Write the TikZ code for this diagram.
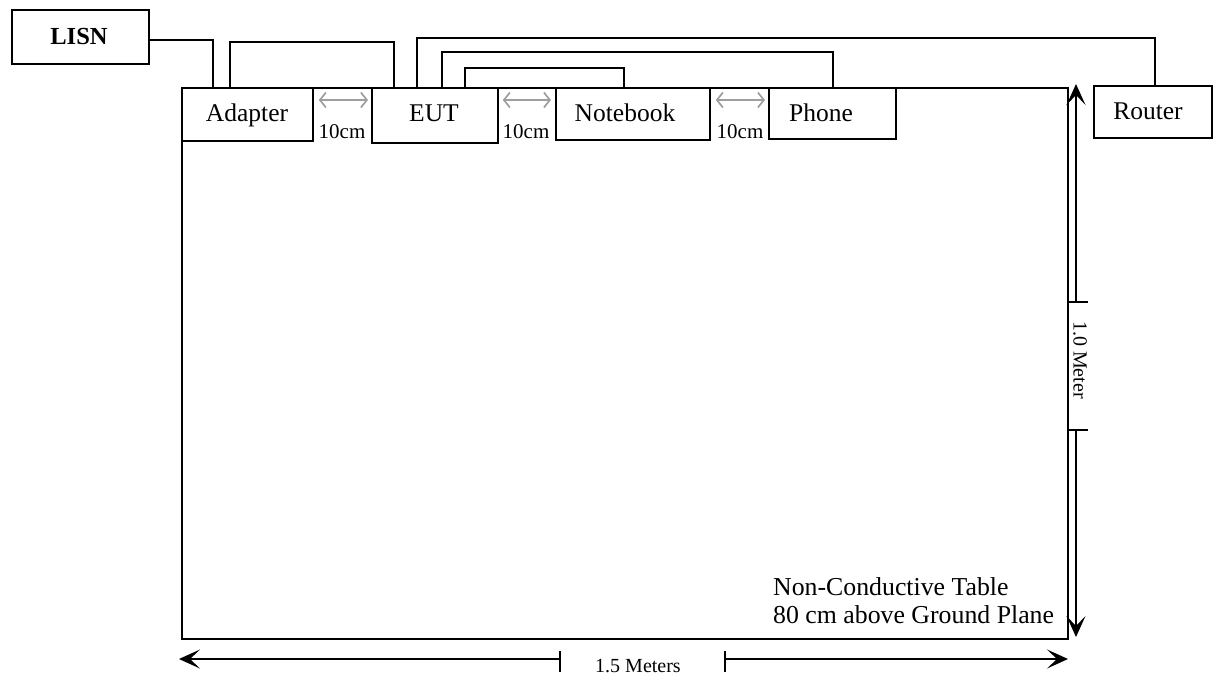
\documentclass[tikz,border=0pt]{standalone}
\usepackage{fontspec}
\setmainfont{Liberation Serif}
\usetikzlibrary{arrows.meta,calc}
\tikzset{
  box/.style={draw=black, line width=1.8pt, fill=white, anchor=north west, inner sep=0pt},
  lbl/.style={inner sep=0pt, font=\fontsize{25.5}{29}\selectfont},
  small/.style={inner sep=0pt, font=\fontsize{21}{24}\selectfont},
  wire/.style={draw=black, line width=1.8pt},
  gap/.style={draw=gray!75, line width=1.7pt, {Straight Barb[length=6pt,width=15pt]}-{Straight Barb[length=6pt,width=15pt]}},
  dim/.style={draw=black, line width=2pt, -{Stealth[length=21pt,width=19pt,inset=10pt]}},
  tick/.style={draw=black, line width=1.8pt},
}
\begin{document}
\begin{tikzpicture}[x=1pt,y=-1pt]
\useasboundingbox (0,0) rectangle (1213,675);
% table
\node[box, fill=none, minimum width=886pt, minimum height=551pt] (table) at (181,87) {};
% boxes
\node[box, minimum width=137pt, minimum height=54pt] (lisn) at (11,9) {};
\node[lbl, font=\fontsize{24.5}{28}\selectfont\bfseries, anchor=base] (lisnt) at (79,44) {LISN};
\node[box, minimum width=131pt, minimum height=53pt] (adapter) at (181,87) {};
\node[lbl, anchor=base] (adaptert) at (247,121) {Adapter};
\node[box, minimum width=126pt, minimum height=55pt] (eut) at (371,87) {};
\node[lbl, anchor=base] (eutt) at (434,121) {EUT};
\node[box, minimum width=154pt, minimum height=52pt] (notebook) at (555,87) {};
\node[lbl, anchor=base] (notebookt) at (625,121) {Notebook};
\node[box, minimum width=127pt, minimum height=51pt] (phone) at (768,87) {};
\node[lbl, anchor=base] (phonet) at (821,121) {Phone};
\node[box, minimum width=118pt, minimum height=52pt] (router) at (1093,85) {};
\node[lbl, anchor=base] (routert) at (1148,119) {Router};
% wires
\draw[wire] ([yshift=-3pt]lisn.east) -| ([xshift=32pt]adapter.north west);
\draw[wire] ([xshift=49pt]adapter.north west) -- ++(0,-45) -| ([xshift=23pt]eut.north west);
\draw[wire] ([xshift=46pt]eut.north west) -- ++(0,-49) -| ([xshift=62pt]router.north west);
\draw[wire] ([xshift=71pt]eut.north west) -- ++(0,-35) -| ([xshift=65pt]phone.north west);
\draw[wire] ([xshift=94pt]eut.north west) -- ++(0,-19) -| ([xshift=69pt]notebook.north west);
% gap arrows
\draw[gap] ([xshift=5pt,yshift=-13pt]adapter.north east) -- ([xshift=-3pt,yshift=-13pt]eut.north west);
\draw[gap] ([xshift=4pt,yshift=-13pt]eut.north east) -- ([xshift=-4pt,yshift=-13pt]notebook.north west);
\draw[gap] ([xshift=5pt,yshift=-13pt]notebook.north east) -- ([xshift=-3pt,yshift=-13pt]phone.north west);
\node[small, anchor=base] (g1) at (342,138) {10cm};
\node[small, anchor=base] (g2) at (526,138) {10cm};
\node[small, anchor=base] (g3) at (740,138) {10cm};
% table text
\node[inner sep=0pt, anchor=base west, font=\fontsize{25.8}{29}\selectfont] (tt1) at (773,595) {Non-Conductive Table};
\node[inner sep=0pt, anchor=base west, font=\fontsize{25.8}{29}\selectfont] (tt2) at (773,623) {80 cm above Ground Plane};
% vertical dimension
\coordinate (vtop) at (1076,84);
\coordinate (vt1) at (1076,302);
\coordinate (vt2) at (1076,430);
\coordinate (vbot) at (1076,637);
\draw[dim] (vt1) -- (vtop);
\draw[dim] (vt2) -- (vbot);
\coordinate (vk1a) at (1067,302); \coordinate (vk1b) at (1088,302);
\coordinate (vk2a) at (1067,430); \coordinate (vk2b) at (1088,430);
\draw[tick] (vk1a) -- (vk1b);
\draw[tick] (vk2a) -- (vk2b);
\node[inner sep=0pt, rotate=-90, font=\fontsize{20}{24}\selectfont] (vm) at (1080,360) {1.0 Meter};
% horizontal dimension
\coordinate (hl) at (179,659);
\coordinate (h1) at (560,659);
\coordinate (h2) at (725,659);
\coordinate (hr) at (1068,659);
\draw[dim] (h1) -- (hl);
\draw[dim] (h2) -- (hr);
\coordinate (hk1a) at (560,651); \coordinate (hk1b) at (560,672);
\coordinate (hk2a) at (725,651); \coordinate (hk2b) at (725,672);
\draw[tick] (hk1a) -- (hk1b);
\draw[tick] (hk2a) -- (hk2b);
\node[inner sep=0pt, anchor=base, font=\fontsize{20}{24}\selectfont] (hm) at (638,672) {1.5 Meters};
\end{tikzpicture}
\end{document}
